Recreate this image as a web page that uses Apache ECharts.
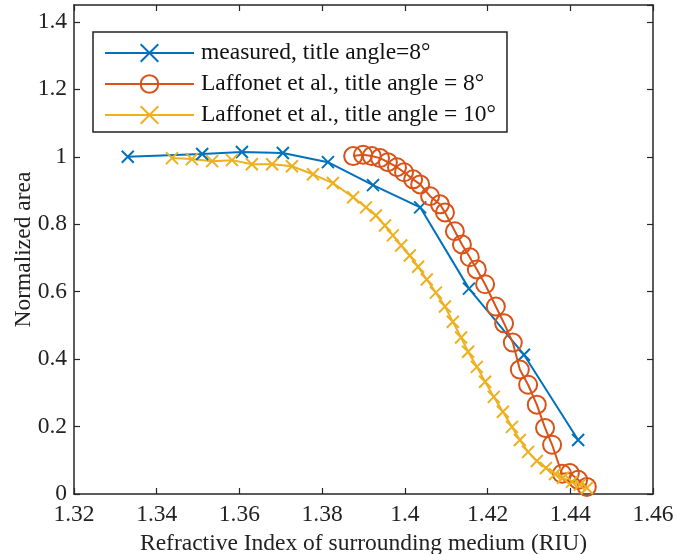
<!DOCTYPE html>
<html>
<head>
<meta charset="utf-8">
<script src="https://cdn.jsdelivr.net/npm/echarts@6/dist/echarts.min.js"></script>
<style>html,body{margin:0;padding:0;background:#fff}#c{width:690px;height:554px}</style>
</head>
<body>
<div id="c"></div>
<script>
const seriesNames = ['measured, title angle=8°', 'Laffonet et al., title angle = 8°', 'Laffonet et al., title angle = 10°'];
const measuredX = [1.333, 1.351, 1.3606, 1.3705, 1.3814, 1.3923, 1.4037, 1.4155, 1.4288, 1.4419];
const measuredY = [1.0, 1.008, 1.014, 1.011, 0.984, 0.916, 0.850, 0.609, 0.413, 0.160];
const laff8X = [1.3875, 1.3899, 1.3920, 1.3940, 1.3959, 1.3981, 1.3998, 1.4020, 1.4037, 1.4061, 1.4085, 1.4097, 1.4121, 1.4138, 1.4157, 1.4174, 1.4194, 1.4220, 1.4240, 1.4261, 1.4278, 1.4298, 1.4319, 1.4339, 1.4356, 1.4380, 1.4399, 1.4419, 1.4440];
const laff8Y = [1.002, 1.006, 1.002, 0.996, 0.984, 0.969, 0.954, 0.933, 0.918, 0.883, 0.859, 0.835, 0.779, 0.740, 0.702, 0.666, 0.622, 0.556, 0.506, 0.449, 0.369, 0.324, 0.265, 0.196, 0.146, 0.060, 0.062, 0.042, 0.021];
const laff10X = [1.3437, 1.3485, 1.3534, 1.3582, 1.3630, 1.3679, 1.3727, 1.3778, 1.3826, 1.3875, 1.3906, 1.3930, 1.3952, 1.3971, 1.3991, 1.4012, 1.4032, 1.4053, 1.4075, 1.4097, 1.4116, 1.4136, 1.4153, 1.4174, 1.4194, 1.4215, 1.4237, 1.4259, 1.4278, 1.4298, 1.4319, 1.4341, 1.4363, 1.4382, 1.4404, 1.4423, 1.4440];
const laff10Y = [0.996, 0.993, 0.987, 0.990, 0.978, 0.978, 0.972, 0.948, 0.922, 0.880, 0.850, 0.826, 0.796, 0.767, 0.737, 0.707, 0.674, 0.636, 0.597, 0.556, 0.511, 0.464, 0.422, 0.377, 0.333, 0.288, 0.244, 0.199, 0.160, 0.125, 0.098, 0.077, 0.059, 0.048, 0.036, 0.027, 0.018];
const xLabelTitle = 'Refractive Index of surrounding medium (RIU)';
const yLabelTitle = 'Normalized area';

const zip = (a, b) => a.map((v, i) => [v, b[i]]);
const FONT = 'Liberation Serif';
const FS = 23.5;
const AX = '#262626';
const xMark = 'path://M0,0L10,10M10,0L0,10';

const chart = echarts.init(document.getElementById('c'));
const axisCommon = {
  axisLine: { show: true, onZero: false, lineStyle: { color: AX, width: 1.5 } },
  axisTick: { show: true, inside: true, length: 6, lineStyle: { color: AX, width: 1.2 } },
  splitLine: { show: false }
};
chart.setOption({
  animation: false,
  backgroundColor: '#fff',
  textStyle: { fontFamily: FONT },
  grid: { left: 74, right: 37, top: 5, bottom: 60, containLabel: false, outerBoundsMode: 'none' },
  legend: {
    orient: 'vertical', left: 93, top: 32,
    padding: [9, 11, 5, 11],
    itemWidth: 89, itemHeight: 22, itemGap: 7,
    borderColor: '#222', borderWidth: 1.5, backgroundColor: '#fff',
    textStyle: { fontFamily: FONT, fontSize: FS, color: '#111', padding: [0, 0, 0, 2] },
    data: seriesNames
  },
  xAxis: [
    Object.assign({ type: 'value', min: 1.32, max: 1.46, interval: 0.02, position: 'bottom',
      name: xLabelTitle, nameLocation: 'middle', nameGap: 36,
      nameTextStyle: { fontFamily: FONT, fontSize: FS, color: '#222' },
      axisLabel: { fontFamily: FONT, fontSize: FS, color: '#222', margin: 9 } }, axisCommon),
    Object.assign({ type: 'value', min: 1.32, max: 1.46, interval: 0.02, position: 'top',
      axisLabel: { show: false } }, axisCommon)
  ],
  yAxis: [
    Object.assign({ type: 'value', min: 0, max: 1.45, interval: 0.2, position: 'left',
      name: yLabelTitle, nameLocation: 'middle', nameGap: 38, nameMoveOverlap: false,
      nameTextStyle: { fontFamily: FONT, fontSize: FS, color: '#222' },
      axisLabel: { fontFamily: FONT, fontSize: FS, color: '#222', margin: 7, showMaxLabel: false } }, axisCommon),
    Object.assign({ type: 'value', min: 0, max: 1.45, interval: 0.2, position: 'right',
      axisLabel: { show: false } }, axisCommon)
  ],
  series: [
    { name: seriesNames[0], type: 'line', data: zip(measuredX, measuredY),
      symbol: xMark, symbolSize: 12, showAllSymbol: true,
      lineStyle: { color: '#0072BD', width: 2 },
      itemStyle: { color: 'none', borderColor: '#0072BD', borderWidth: 2 } },
    { name: seriesNames[1], type: 'line', data: zip(laff8X, laff8Y),
      symbol: 'circle', symbolSize: 18, showAllSymbol: true,
      lineStyle: { color: '#D95319', width: 2 },
      itemStyle: { color: 'none', borderColor: '#D95319', borderWidth: 2 } },
    { name: seriesNames[2], type: 'line', data: zip(laff10X, laff10Y),
      symbol: xMark, symbolSize: 12, showAllSymbol: true,
      lineStyle: { color: '#EDB120', width: 2 },
      itemStyle: { color: 'none', borderColor: '#EDB120', borderWidth: 2 } }
  ]
});
</script>
</body>
</html>
